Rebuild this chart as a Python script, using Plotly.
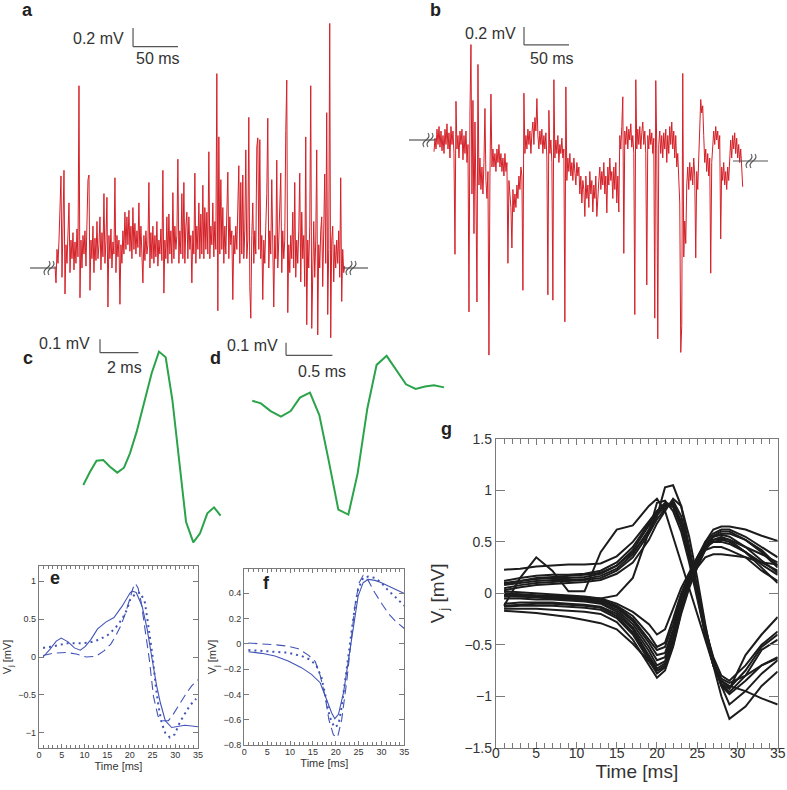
import numpy as np
import plotly.graph_objects as go

W, H = 787, 790
FONT = "Liberation Sans"
RED = "#d42027"
GREEN = "#2ba34a"
BLUE = "#4254b6"
AXC = "#7a7a7a"
TXT = "#333333"

# ---------------- data ----------------
# panel a: extracellular trace (mV), one sample every a_dt_ms
a_dt_ms = 1.11
a_mv = [0.02, -0.16, 0.20, 0.05, 0.30, 0.73, 0.99, -0.10, 0.40, 1.05,
        -0.28, 0.25, 0.05, 0.35, 0.70, -0.05, 0.30, 0.10, 0.38, -0.02,
        0.28, 0.05, 0.42, 0.12, 1.96, -0.32, 0.30, 0.00, 0.35, 0.15,
        0.40, 0.02, 0.62, 0.95, 1.00, -0.24, 0.30, 0.10, 0.45, -0.05,
        0.32, 0.08, 0.50, 0.10, 0.25, 0.55, -0.02, 0.38, 0.12, 0.80,
        0.05, 0.30, 0.76, -0.42, 0.35, 0.10, 0.42, 0.00, 0.28, 0.15,
        0.97, -0.05, 0.35, 0.12, 0.30, -0.39, 0.25, 0.05, 0.40, 0.15,
        0.60, 0.20, 0.55, 0.25, 0.62, 0.18, 0.45, 0.10, 0.65, 0.20,
        0.48, 0.15, 0.40, 0.22, 0.70, 0.12, 0.45, 0.20, -0.16, 0.35,
        0.08, 0.40, 0.15, 0.25, 0.92, 0.00, 0.38, 0.10, 0.45, 0.05,
        0.35, 0.12, 0.50, 0.02, 0.30, 0.15, 0.42, 0.08, 1.05, -0.27,
        0.30, 0.10, 0.55, 0.05, 0.58, 0.15, 0.40, 0.05, 0.81, 0.10,
        0.45, 0.20, 0.35, 1.17, 0.05, 0.40, 0.15, 0.80, 0.10, 0.92,
        0.05, 0.45, 0.60, 0.10, 0.55, 0.20, 0.35, -0.16, 0.40, 0.15,
        1.02, 0.05, 0.45, 0.20, 0.70, 0.10, 0.58, 0.15, 0.89, 0.10,
        0.65, 0.20, 0.60, 0.15, 1.25, 0.10, 0.45, 0.25, 0.70, 0.12,
        0.50, 0.20, 2.09, -0.46, 1.41, 0.15, 0.95, 0.20, 0.65, 0.05,
        0.45, 0.15, 0.60, 1.03, 0.10, 0.55, 0.25, 0.40, -0.34, 0.35,
        0.15, 0.45, 0.20, 0.85, 1.10, 0.05, 0.92, 0.15, 1.00, 0.10,
        0.40, 1.27, 0.10, 0.30, 1.62, -0.20, -0.54, 0.35, 0.70, 0.05,
        0.40, 0.15, 1.30, 1.40, 0.20, 1.38, 0.10, 0.35, -0.34, 0.30,
        0.05, 0.45, 0.80, 1.61, 0.00, 0.40, 0.15, 0.95, 0.05, -0.42,
        0.35, 0.10, 1.16, 0.00, 0.30, 0.75, 1.02, -0.05, 0.40, 0.10,
        0.30, 1.48, 2.02, -0.48, 0.25, -0.05, 0.35, 0.10, 0.60, 0.00,
        0.92, -0.10, 0.30, 0.05, 0.40, 1.02, -0.15, 0.60, 0.10, 0.35,
        -0.20, 1.41, -0.61, 0.30, 0.00, 0.45, 1.96, -0.65, 0.20, 0.50,
        -0.10, 0.30, 1.27, -0.72, 0.25, 0.00, 0.40, 0.55, -0.20, 0.30,
        1.01, 0.05, 1.67, -0.50, 0.20, 2.63, -0.75, 0.30, 0.45, -0.15,
        0.25, 0.00, 0.30, 0.05, 0.40, -0.10, 0.97, -0.36, 0.20, -0.05,
        0.02]

# panel b: extracellular trace (mV)
b_dt_ms = 1.11
b_mv = [-0.13, 0.02, -0.10, 0.12, -0.05, 0.15, -0.08, 0.10, -0.12, 0.05,
        -0.15, 0.12, -0.05, 0.18, -0.10, 0.08, -0.20, 0.15, -0.05, 0.10,
        -0.15, -1.27, 0.43, -0.10, 0.05, -0.20, 0.10, -0.05, 0.12, -0.22,
        0.05, -0.15, 0.10, -0.25, -0.05, -1.91, 0.30, 1.06, -0.60, 0.44,
        -1.04, 0.20, -0.60, -1.80, 0.84, -0.50, -0.20, -0.55, -0.30, -0.60,
        -0.25, 0.35, -0.45, -0.65, -0.35, -2.39, -0.40, 0.51, -0.30, -0.10,
        -0.30, -0.15, -0.35, -0.10, -0.25, -0.05, -0.30, -0.15, -0.35, -0.20,
        -0.40, -0.15, -0.35, -0.25, -1.37, -0.45, -0.60, -0.75, -1.20, -0.55,
        -0.80, -0.60, -0.75, -0.50, -0.65, -0.40, -0.55, -0.30, -0.40, -1.67,
        0.52, -0.15, 0.05, -0.10, 0.12, -0.05, 0.10, -0.15, 0.08, 0.20,
        -0.05, 0.25, 0.10, 0.46, 0.05, -0.10, 0.10, -0.05, 0.12, -0.15,
        0.05, -0.10, 0.08, -0.20, -1.72, 0.33, -0.15, 0.00, -0.25, -1.78,
        0.67, -0.20, 0.00, -0.15, 0.05, -0.25, -0.05, -0.15, 0.02, -0.20,
        -0.10, -2.02, 0.59, -0.45, -0.20, -0.35, -0.15, -0.40, -0.25, -0.45,
        -0.20, -0.35, -0.50, -0.25, -0.40, -0.30, -0.60, -0.40, -0.70, -0.45,
        -0.55, -0.85, -0.40, -0.65, -0.50, -0.75, -0.35, -0.60, -0.45, -0.80,
        -0.50, -0.65, -0.40, -0.85, -0.55, -0.45, -0.30, -0.55, -0.35, -0.50,
        -0.25, -0.60, -0.40, -0.81, -0.30, -0.50, -0.20, -0.45, -0.35, -0.65,
        -0.30, -0.55, -0.25, -0.70, -0.40, -0.80, 0.05, -0.10, 0.15, 0.48,
        -1.26, 0.10, -0.05, 0.15, -0.10, 0.12, 0.00, 0.18, -0.08, 0.05,
        -0.15, -1.94, 0.67, -0.10, 0.12, -0.05, 0.15, -0.10, 0.08, 0.20,
        -0.05, 0.10, -0.15, -1.61, 0.05, -0.10, 0.12, -0.05, 0.08, -0.15,
        0.02, -1.98, 0.66, -0.10, -2.21, -0.05, 0.10, -0.15, 0.05, -0.20,
        0.08, -0.10, 0.12, -0.25, 0.05, -0.15, 0.15, -0.05, 0.20, -0.10,
        0.10, -0.20, 0.05, -0.30, -0.15, -0.45, -0.70, -2.36, -2.06, 0.74,
        -1.30, -0.90, -1.15, -0.50, -0.30, -0.55, -0.25, -0.45, -0.30, -0.50,
        -0.20, -0.40, -1.31, -0.35, -0.55, -0.20, 0.20, 0.45, 0.30, 0.38,
        0.05, -0.25, -0.10, -0.35, -0.15, -0.40, -0.20, -1.48, -0.25, -0.05,
        0.10, -0.05, 0.15, 0.00, 0.10, -0.10, 0.05, -1.10, -0.30, -0.45,
        -0.25, -0.50, -0.35, -0.55, -0.30, -0.45, -0.15, 0.00, -0.20, 0.05,
        -0.10, 0.08, -0.15, 0.02, -0.20, -0.05, -0.25, -0.10, -0.30, -0.52]

# panel c: spike waveform
c_time_ms = [0.0, 0.35, 0.69, 1.04, 1.39, 1.77, 2.12, 2.43, 2.78, 3.13, 3.56,
             3.94, 4.29, 4.64, 4.98, 5.35, 5.73, 6.08, 6.46, 6.81, 7.15]
c_mv = [0.0, 0.100, 0.183, 0.188, 0.138, 0.093, 0.130, 0.238, 0.401, 0.602, 0.840,
        1.003, 0.960, 0.639, 0.188, -0.276, -0.431, -0.363, -0.213, -0.168, -0.231]

# panel d: spike waveform
d_time_ms = [0.0, 0.093, 0.198, 0.309, 0.414, 0.514, 0.622, 0.723, 0.827, 0.928, 1.036,
             1.136, 1.241, 1.341, 1.449, 1.557, 1.658, 1.762, 1.863, 1.960, 2.068]
d_mv = [0.0, -0.021, -0.082, -0.126, -0.082, 0.024, 0.063, -0.113, -0.482, -0.858, -0.897,
        -0.574, -0.061, 0.282, 0.353, 0.237, 0.129, 0.092, 0.111, 0.121, 0.105]

# panel e
e_time_solid = [0.9, 2.4, 3.8, 4.9, 6.4, 7.8, 9.1, 10.2, 11.4, 12.9, 14.7, 16.5, 18.3, 20.1,
                20.5, 21.4, 22.7, 23.8, 24.9, 25.9, 26.7, 27.8, 29.2, 30.7, 32.1, 33.6, 35.0]
e_solid = [0.00, 0.10, 0.21, 0.25, 0.20, 0.12, 0.09, 0.14, 0.23, 0.37, 0.46, 0.52, 0.67, 0.85,
           0.87, 0.85, 0.67, 0.37, -0.03, -0.38, -0.60, -0.84, -0.93, -0.91, -0.90, -0.91, -0.92]
e_time_dot = [0.9, 3.1, 6.0, 8.9, 11.1, 13.3, 15.4, 16.9, 18.3, 19.4, 20.1, 21.2, 22.3, 23.3,
              24.1, 25.0, 25.7, 26.3, 27.0, 27.8, 28.8, 29.9, 31.0, 32.1, 33.2, 34.6]
e_dot = [0.12, 0.14, 0.18, 0.18, 0.19, 0.23, 0.30, 0.39, 0.50, 0.63, 0.76, 0.83, 0.85, 0.72,
         0.40, 0.01, -0.38, -0.65, -0.87, -1.00, -1.06, -1.02, -0.86, -0.74, -0.64, -0.55]
e_time_dash = [0.9, 3.1, 6.0, 8.2, 10.4, 12.5, 14.3, 15.8, 16.9, 18.0, 19.1, 19.9, 20.7, 21.2,
               21.8, 22.5, 23.4, 24.3, 25.2, 26.2, 27.2, 28.5, 29.6, 30.7, 32.1, 33.6, 35.0]
e_dash = [0.02, 0.05, 0.06, 0.04, 0.00, 0.01, 0.08, 0.17, 0.28, 0.41, 0.59, 0.76, 0.91, 0.97,
          0.91, 0.72, 0.35, -0.04, -0.52, -0.78, -0.84, -0.84, -0.75, -0.64, -0.51, -0.38, -0.30]

# panel f
f_time_solid = [0.9, 3.8, 6.7, 9.6, 12.5, 14.7, 16.6, 18.0, 19.1, 19.8, 20.6, 21.7, 22.8,
                23.9, 24.9, 26.0, 27.1, 28.6, 30.0, 31.5, 33.0, 35.0]
f_solid = [-0.063, -0.076, -0.097, -0.137, -0.189, -0.242, -0.308, -0.439, -0.545, -0.592,
           -0.558, -0.387, -0.124, 0.139, 0.376, 0.482, 0.508, 0.50, 0.482, 0.455, 0.429, 0.397]
f_time_dot = [0.9, 3.8, 6.7, 9.6, 12.5, 14.4, 15.8, 16.9, 17.8, 18.7, 19.7, 20.6, 21.3, 22.2,
              23.1, 24.1, 24.9, 26.0, 27.1, 28.6, 30.0, 31.5, 33.0, 35.0]
f_dot = [-0.05, -0.058, -0.063, -0.071, -0.097, -0.126, -0.174, -0.27, -0.42, -0.58, -0.66,
         -0.64, -0.50, -0.26, 0.0, 0.27, 0.43, 0.52, 0.53, 0.52, 0.48, 0.42, 0.37, 0.30]
f_time_dash = [0.9, 3.8, 6.7, 9.6, 11.8, 14.0, 15.5, 16.6, 17.7, 18.5, 19.5, 20.4, 21.3,
               22.4, 23.3, 24.2, 25.1, 26.0, 27.1, 28.6, 30.0, 31.5, 33.0, 35.0]
f_dash = [0.005, 0.0, -0.008, -0.02, -0.04, -0.09, -0.14, -0.25, -0.42, -0.60, -0.72, -0.74,
          -0.60, -0.30, 0.0, 0.30, 0.48, 0.54, 0.50, 0.40, 0.32, 0.24, 0.18, 0.12]

# panel g: waveforms on a common time grid
g_time_ms = [1, 3, 5, 7, 9, 11, 13, 15, 17, 19, 20, 21, 22, 23, 24, 25, 26, 27, 28, 29, 31, 33, 35]
g_pos_1 = [0.23, 0.24, 0.26, 0.27, 0.28, 0.28, 0.29, 0.36, 0.50, 0.70, 0.80, 0.86, 0.84, 0.65, 0.35, 0.0, -0.35, -0.62, -0.80, -0.85, -0.70, -0.50, -0.37]
g_pos_2 = [0.12, 0.15, 0.17, 0.18, 0.18, 0.19, 0.22, 0.30, 0.45, 0.68, 0.80, 0.88, 0.86, 0.68, 0.38, 0.02, -0.35, -0.65, -0.85, -0.92, -0.75, -0.52, -0.40]
g_pos_3 = [0.10, 0.12, 0.14, 0.15, 0.15, 0.16, 0.19, 0.27, 0.42, 0.66, 0.78, 0.86, 0.85, 0.66, 0.35, -0.02, -0.40, -0.70, -0.88, -0.96, -0.80, -0.55, -0.45]
g_pos_4 = [0.08, 0.10, 0.12, 0.13, 0.13, 0.14, 0.17, 0.24, 0.38, 0.62, 0.76, 0.84, 0.88, 0.70, 0.40, 0.05, -0.35, -0.68, -0.90, -0.98, -0.85, -0.70, -0.62]
g_pos_5 = [0.05, 0.08, 0.10, 0.11, 0.12, 0.13, 0.15, 0.22, 0.35, 0.58, 0.72, 0.82, 0.90, 0.75, 0.45, 0.08, -0.32, -0.65, -0.90, -1.08, -0.95, -0.78, -0.65]
g_pos_6 = [0.03, 0.06, 0.08, 0.09, 0.10, 0.11, 0.13, 0.19, 0.30, 0.52, 0.68, 0.80, 0.92, 0.85, 0.55, 0.15, -0.30, -0.70, -1.00, -1.22, -1.10, -0.90, -0.76]
g_pos_7 = [0.09, 0.12, 0.15, 0.16, 0.17, 0.18, 0.20, 0.27, 0.40, 0.60, 0.75, 1.03, 1.05, 0.85, 0.45, 0.0, -0.40, -0.70, -0.88, -0.93, -0.60, -0.40, -0.23]
g_pos_8 = [-0.12, 0.15, 0.35, 0.22, 0.02, 0.02, 0.40, 0.62, 0.66, 0.85, 0.92, 0.80, 0.55, 0.30, 0.05, -0.20, -0.45, -0.70, -0.85, -0.90, -0.95, -1.02, -1.08]
g_pos_9 = [0.0, -0.01, -0.02, -0.03, -0.03, -0.04, -0.05, -0.02, 0.15, 0.60, 0.88, 0.90, 0.80, 0.60, 0.30, -0.05, -0.40, -0.68, -0.83, -0.87, -0.80, -0.70, -0.63]
g_neg_1 = [0.02, 0.01, 0.0, -0.01, -0.02, -0.03, -0.05, -0.10, -0.18, -0.30, -0.40, -0.35, -0.15, 0.05, 0.20, 0.35, 0.48, 0.55, 0.58, 0.58, 0.52, 0.40, 0.25]
g_neg_2 = [0.0, -0.01, -0.02, -0.02, -0.03, -0.04, -0.06, -0.12, -0.22, -0.40, -0.52, -0.48, -0.25, 0.0, 0.18, 0.35, 0.50, 0.58, 0.62, 0.62, 0.55, 0.45, 0.35]
g_neg_3 = [-0.01, -0.02, -0.03, -0.03, -0.04, -0.05, -0.07, -0.13, -0.25, -0.45, -0.55, -0.52, -0.30, -0.03, 0.17, 0.33, 0.47, 0.52, 0.53, 0.52, 0.45, 0.38, 0.30]
g_neg_4 = [-0.02, -0.03, -0.03, -0.04, -0.05, -0.06, -0.08, -0.14, -0.27, -0.48, -0.60, -0.58, -0.35, -0.05, 0.15, 0.32, 0.45, 0.50, 0.50, 0.48, 0.40, 0.30, 0.22]
g_neg_5 = [-0.03, -0.03, -0.04, -0.05, -0.06, -0.07, -0.09, -0.16, -0.30, -0.52, -0.65, -0.62, -0.38, -0.08, 0.15, 0.32, 0.48, 0.56, 0.60, 0.60, 0.52, 0.42, 0.27]
g_neg_6 = [-0.05, -0.05, -0.06, -0.06, -0.07, -0.08, -0.10, -0.18, -0.33, -0.56, -0.70, -0.66, -0.42, -0.10, 0.13, 0.30, 0.45, 0.50, 0.52, 0.50, 0.40, 0.28, 0.18]
g_neg_7 = [-0.10, -0.09, -0.09, -0.09, -0.10, -0.11, -0.13, -0.20, -0.35, -0.60, -0.73, -0.68, -0.45, -0.12, 0.12, 0.30, 0.42, 0.45, 0.45, 0.42, 0.35, 0.22, 0.12]
g_neg_8 = [-0.12, -0.11, -0.10, -0.10, -0.11, -0.12, -0.14, -0.22, -0.38, -0.63, -0.75, -0.70, -0.48, -0.15, 0.10, 0.25, 0.35, 0.38, 0.38, 0.37, 0.35, 0.30, 0.28]
g_neg_9 = [-0.13, -0.12, -0.12, -0.12, -0.13, -0.14, -0.16, -0.24, -0.40, -0.66, -0.78, -0.72, -0.50, -0.18, 0.08, 0.28, 0.45, 0.55, 0.57, 0.55, 0.45, 0.32, 0.20]
g_neg_10 = [-0.15, -0.15, -0.15, -0.16, -0.17, -0.18, -0.20, -0.28, -0.45, -0.70, -0.82, -0.75, -0.52, -0.20, 0.05, 0.25, 0.42, 0.52, 0.55, 0.52, 0.40, 0.25, 0.10]
g_neg_11 = [-0.17, -0.18, -0.19, -0.21, -0.23, -0.26, -0.29, -0.35, -0.49, -0.66, -0.75, -0.72, -0.50, -0.18, 0.08, 0.30, 0.50, 0.62, 0.65, 0.65, 0.62, 0.56, 0.51]

# scale bar sizes
ab_bar_mv, ab_bar_ms = 0.2, 50
cd_bar_mv, c_bar_ms, d_bar_ms = 0.1, 2, 0.5

# ---------------- helpers (geometry only) ----------------
def px(x):
    return x / W

def py(y):
    return 1 - y / H

def xrange_(p0, p1, anchor_px, anchor_val, ppu):
    return [anchor_val + (p0 - anchor_px) / ppu, anchor_val + (p1 - anchor_px) / ppu]

def yrange_(ptop, pbot, anchor_px, anchor_val, ppu):
    return [anchor_val - (pbot - anchor_px) / ppu, anchor_val - (ptop - anchor_px) / ppu]

fig = go.Figure()

a_t = np.arange(len(a_mv)) * a_dt_ms
b_t = np.arange(len(b_mv)) * b_dt_ms

fig.add_trace(go.Scatter(x=a_t, y=a_mv, mode="lines", line=dict(color=RED, width=1),
                         xaxis="x", yaxis="y", hoverinfo="skip"))
fig.add_trace(go.Scatter(x=b_t, y=b_mv, mode="lines", line=dict(color=RED, width=1),
                         xaxis="x2", yaxis="y2", hoverinfo="skip"))
fig.add_trace(go.Scatter(x=c_time_ms, y=c_mv, mode="lines", line=dict(color=GREEN, width=2),
                         xaxis="x3", yaxis="y3", hoverinfo="skip"))
fig.add_trace(go.Scatter(x=d_time_ms, y=d_mv, mode="lines", line=dict(color=GREEN, width=2),
                         xaxis="x4", yaxis="y4", hoverinfo="skip"))

for xs, ys, dash, w in [(e_time_solid, e_solid, "solid", 1.1),
                        (e_time_dot, e_dot, "2px,4px", 2.0),
                        (e_time_dash, e_dash, "9px,5px", 1.1)]:
    fig.add_trace(go.Scatter(x=xs, y=ys, mode="lines", line=dict(color=BLUE, width=w, dash=dash),
                             xaxis="x5", yaxis="y5", hoverinfo="skip"))
for xs, ys, dash, w in [(f_time_solid, f_solid, "solid", 1.1),
                        (f_time_dot, f_dot, "2px,4px", 2.0),
                        (f_time_dash, f_dash, "9px,5px", 1.1)]:
    fig.add_trace(go.Scatter(x=xs, y=ys, mode="lines", line=dict(color=BLUE, width=w, dash=dash),
                             xaxis="x6", yaxis="y6", hoverinfo="skip"))

g_series = [g_pos_1, g_pos_2, g_pos_3, g_pos_4, g_pos_5, g_pos_6, g_pos_7, g_pos_8, g_pos_9,
            g_neg_1, g_neg_2, g_neg_3, g_neg_4, g_neg_5, g_neg_6, g_neg_7, g_neg_8, g_neg_9,
            g_neg_10, g_neg_11]
for s in g_series:
    fig.add_trace(go.Scatter(x=g_time_ms, y=s, mode="lines", line=dict(color="#1c1c1c", width=2),
                             xaxis="x7", yaxis="y7", hoverinfo="skip"))

hidden = dict(visible=False, fixedrange=True)

def frame_axis(**kw):
    d = dict(showline=True, linecolor=AXC, linewidth=1.3, mirror="ticks", ticks="inside",
             tickcolor=AXC, showgrid=False, zeroline=False, automargin=False, fixedrange=True,
             tickfont=dict(family=FONT, color=TXT))
    d.update(kw)
    return d

layout = dict(
    width=W, height=H, autosize=False, showlegend=False,
    margin=dict(l=0, r=0, t=0, b=0),
    paper_bgcolor="white", plot_bgcolor="rgba(0,0,0,0)",
    font=dict(family=FONT, color=TXT),
    xaxis=dict(hidden, domain=[px(0), px(400)], range=xrange_(0, 400, 55, 0, 0.9), anchor="y"),
    yaxis=dict(hidden, domain=[py(340), py(0)], range=yrange_(0, 340, 268, 0, 93), anchor="x"),
    xaxis2=dict(hidden, domain=[px(400), px(787)], range=xrange_(400, 787, 434, 0, 0.9), anchor="y2"),
    yaxis2=dict(hidden, domain=[py(360), py(0)], range=yrange_(0, 360, 140, 0, 90), anchor="x2"),
    xaxis3=dict(hidden, domain=[px(0), px(235)], range=xrange_(0, 235, 83.3, 0, 19.2), anchor="y3"),
    yaxis3=dict(hidden, domain=[py(560), py(330)], range=yrange_(330, 560, 485, 0, 133), anchor="x3"),
    xaxis4=dict(hidden, domain=[px(235), px(460)], range=xrange_(235, 460, 252.3, 0, 92.7), anchor="y4"),
    yaxis4=dict(hidden, domain=[py(560), py(330)], range=yrange_(330, 560, 400.7, 0, 127), anchor="x4"),
    xaxis5=frame_axis(domain=[px(39), px(198)], range=[0, 35], anchor="y5", dtick=5, ticklen=4,
                      ticklabelstandoff=-2,
                      tickfont=dict(family=FONT, size=9, color=TXT),
                      minor=dict(dtick=1, ticks="inside", ticklen=3, tickcolor=AXC),
                      title=dict(text="Time [ms]", font=dict(family=FONT, size=11, color=TXT), standoff=0)),
    yaxis5=frame_axis(domain=[py(748), py(566)], range=[-1.2, 1.2], anchor="x5", dtick=0.5, ticklen=5,
                      tickfont=dict(family=FONT, size=9, color=TXT),
                      title=dict(text="V<sub>j</sub> [mV]", font=dict(family=FONT, size=11, color=TXT), standoff=4)),
    xaxis6=frame_axis(domain=[px(244.3), px(404.3)], range=[0, 35], anchor="y6", dtick=5, ticklen=4,
                      ticklabelstandoff=-2,
                      tickfont=dict(family=FONT, size=9, color=TXT),
                      minor=dict(dtick=1, ticks="inside", ticklen=3, tickcolor=AXC),
                      title=dict(text="Time [ms]", font=dict(family=FONT, size=11, color=TXT), standoff=0)),
    yaxis6=frame_axis(domain=[py(745), py(569)], range=[-0.8, 0.59], anchor="x6", dtick=0.2, tick0=0,
                      ticklen=5, tickfont=dict(family=FONT, size=9, color=TXT),
                      title=dict(text="V<sub>j</sub> [mV]", font=dict(family=FONT, size=11, color=TXT), standoff=4)),
    xaxis7=frame_axis(domain=[px(496), px(777.7)], range=[0, 35], anchor="y7", dtick=5, ticklen=6,
                      ticklabelstandoff=-8,
                      tickfont=dict(family=FONT, size=14, color=TXT),
                      minor=dict(dtick=1, ticks="inside", ticklen=5, tickcolor=AXC),
                      title=dict(text="Time [ms]", font=dict(family=FONT, size=19, color=TXT), standoff=0)),
    yaxis7=frame_axis(domain=[py(747.7), py(439)], range=[-1.5, 1.5], anchor="x7", dtick=0.5, ticklen=9,
                      tickfont=dict(family=FONT, size=14, color=TXT),
                      title=dict(text="V<sub>j</sub> [mV]", font=dict(family=FONT, size=19, color=TXT), standoff=14)),
)

shapes = []
annotations = []

def bar(xref, yref, x0, y0, dx, dy):
    shapes.append(dict(type="line", xref=xref, yref=yref, x0=x0, y0=y0, x1=x0, y1=y0 + dy,
                       line=dict(color="#555555", width=1.2)))
    shapes.append(dict(type="line", xref=xref, yref=yref, x0=x0, y0=y0, x1=x0 + dx, y1=y0,
                       line=dict(color="#555555", width=1.2)))

# scale bars (data coordinates of each panel)
bar("x", "y", 86.7, 2.38, ab_bar_ms, ab_bar_mv)
bar("x2", "y2", 100.0, 1.056, ab_bar_ms, ab_bar_mv)
bar("x3", "y3", 0.87, 0.995, c_bar_ms, cd_bar_mv)
bar("x4", "y4", 0.364, 0.357, d_bar_ms, cd_bar_mv)

def txt(x, y, s, size=16, bold=False, xanchor="center"):
    annotations.append(dict(xref="paper", yref="paper", x=px(x), y=py(y), text=("<b>%s</b>" % s) if bold else s,
                            showarrow=False, xanchor=xanchor, yanchor="middle",
                            font=dict(family=FONT, size=size, color="#222222" if bold else TXT)))

txt(126, 38, "%g mV" % ab_bar_mv, xanchor="right")
txt(158, 59, "%g ms" % ab_bar_ms)
txt(518, 33, "%g mV" % ab_bar_mv, xanchor="right")
txt(552, 59, "%g ms" % ab_bar_ms)
txt(92, 343, "%g mV" % cd_bar_mv, xanchor="right")
txt(124, 367, "%g ms" % c_bar_ms)
txt(280, 345, "%g mV" % cd_bar_mv, xanchor="right")
txt(322, 371, "%g ms" % d_bar_ms)

txt(27, 10, "a", 18, True)
txt(435, 10, "b", 18, True)
txt(28, 358, "c", 18, True)
txt(215, 358, "d", 18, True)
txt(447, 429, "g", 18, True)
txt(55, 578, "e", 18, True)
txt(266, 583, "f", 18, True)

# baseline stubs with axis-break marks
def brk_line(x0, x1, y):
    shapes.append(dict(type="line", xref="paper", yref="paper", x0=px(x0), x1=px(x1), y0=py(y), y1=py(y),
                       line=dict(color="#555555", width=1.2)))

def brk_mark(cx, cy):
    for off in (-2, 2):
        c = cx + off
        pts = [(c - 2, cy + 7), (c - 5, cy + 3), (c - 1, cy + 1), (c, cy),
               (c + 1, cy - 1), (c + 5, cy - 3), (c + 2, cy - 7)]
        path = "M %f,%f C %f,%f %f,%f %f,%f C %f,%f %f,%f %f,%f" % tuple(
            v for p in pts for v in (px(p[0]), py(p[1])))
        shapes.append(dict(type="path", xref="paper", yref="paper", path=path,
                           line=dict(color="#555555", width=1.1)))

brk_line(30, 56, 268); brk_mark(49, 268)
brk_line(343, 368, 268); brk_mark(351, 268)
brk_line(409, 436, 140); brk_mark(428, 140)
brk_line(733, 768, 161); brk_mark(751, 161)

layout["shapes"] = shapes
layout["annotations"] = annotations
fig.update_layout(layout)
fig.write_html("out.html", config={"displayModeBar": False},
               post_script="document.body.style.margin='0px';")
